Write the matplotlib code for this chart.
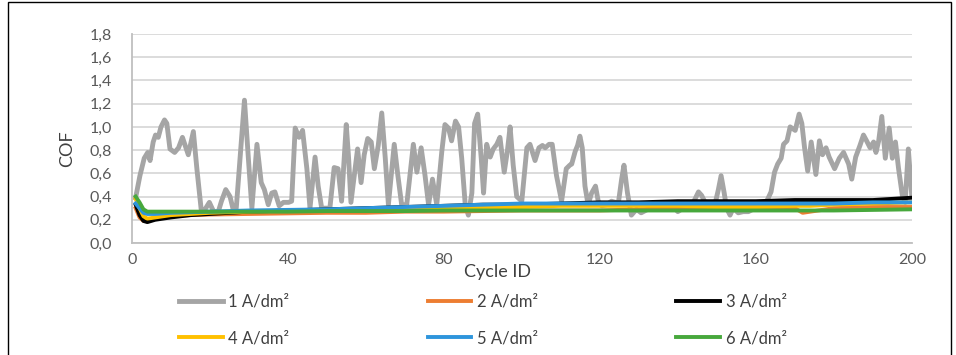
import matplotlib.pyplot as plt
from matplotlib.patches import Rectangle

plt.rcParams['font.family'] = ['Lato', 'DejaVu Sans']

# 1 A/dm2 - noisy series (cycle, COF)
gray_x = [1, 2.1, 3.2, 4.1, 4.7, 5.5, 6.1, 6.8, 7.5, 8.4, 9.0, 9.8, 11, 12, 13, 13.7, 14.5, 15.8,
          16.7, 17.8, 18.8, 19.9, 21, 22.2, 23, 24.1, 25.2, 26, 26.8, 28.9, 29.9, 30.8, 32.1, 33.2,
          34.0, 35.0, 35.9, 36.7, 37.8, 38.9, 40.2, 41, 41.9, 42.9, 43.8, 44.9, 45.7, 47, 47.8, 48.7,
          50.8, 51.9, 52.9, 53.8, 55, 55.6, 56.2, 57.9, 58.8, 59.6, 60.5, 61.4, 62.2, 63.2, 64.1, 65,
          65.8, 67.3, 68.2, 69.2, 70.5, 72.2, 73.1, 74.2, 75.2, 76.1, 77.1, 78.2, 79.5, 80.3, 81.2,
          82, 83.0, 83.8, 84.6, 85.5, 86.3, 87.2, 87.9, 88.7, 89.6, 90.2, 91, 91.9, 92.7, 93.6, 94.4,
          95.5, 96.3, 97, 97.8, 98.7, 100, 101.3, 102.1, 103.4, 104.4, 105.3, 106, 107, 107.8, 108.9,
          110.2, 111.4, 112.3, 112.8, 113.7, 114.3, 114.9, 115.5, 116.2, 117, 117.9, 118.9, 119.6,
          120.5, 121.7, 123, 124, 124.7, 125.6, 126.2, 127.1, 128.1, 129.4, 130.6, 132.3, 134, 135.8,
          137.5, 139.2, 140, 142.7, 144, 145.3, 146.1, 147, 148.3, 149.5, 150.4, 151.1, 151.9, 152.5,
          153.4, 154.2, 155.5, 156.8, 158.1, 159.8, 161.5, 162.8, 163.9, 164.8, 165.6, 166.5, 167.1,
          168, 168.8, 170.1, 171.1, 171.8, 172.5, 173.3, 174.2, 174.8, 175.4, 176.3, 177.1, 178,
          178.8, 180.2, 181.4, 182.5, 183.8, 184.6, 185.6, 186.7, 187.6, 188.4, 189.3, 190.2, 190.8,
          191.5, 192.3, 193.2, 194.2, 195, 195.8, 196.6, 197.6, 198.3, 199.1, 200]
gray_y = [0.39, 0.58, 0.73, 0.78, 0.71, 0.87, 0.93, 0.91, 1.00, 1.06, 1.03, 0.81, 0.78, 0.82, 0.91, 0.84, 0.76, 0.96,
          0.64, 0.29, 0.29, 0.35, 0.27, 0.27, 0.36, 0.46, 0.40, 0.29, 0.30, 1.23, 0.73, 0.30, 0.85, 0.52,
          0.46, 0.33, 0.43, 0.44, 0.32, 0.35, 0.35, 0.36, 0.99, 0.91, 0.97, 0.64, 0.30, 0.74, 0.49, 0.30,
          0.30, 0.65, 0.64, 0.36, 1.02, 0.73, 0.35, 0.81, 0.52, 0.76, 0.90, 0.87, 0.64, 0.84, 1.12, 0.73,
          0.33, 0.85, 0.59, 0.33, 0.33, 0.85, 0.61, 0.82, 0.58, 0.33, 0.55, 0.33, 0.79, 1.02, 0.99,
          0.88, 1.05, 1.00, 0.73, 0.33, 0.24, 0.43, 1.03, 1.11, 0.73, 0.43, 0.85, 0.74, 0.81, 0.85, 0.91,
          0.61, 0.79, 1.00, 0.67, 0.40, 0.36, 0.82, 0.85, 0.71, 0.82, 0.84, 0.82, 0.85, 0.85, 0.58,
          0.36, 0.64, 0.67, 0.68, 0.79, 0.84, 0.92, 0.82, 0.49, 0.33, 0.43, 0.49, 0.36,
          0.32, 0.33, 0.36, 0.35, 0.33, 0.55, 0.67, 0.43, 0.24, 0.29, 0.26, 0.29, 0.29, 0.29,
          0.30, 0.30, 0.27, 0.33, 0.35, 0.44, 0.41, 0.35, 0.32, 0.33, 0.46, 0.58, 0.43, 0.30,
          0.24, 0.30, 0.26, 0.27, 0.27, 0.30, 0.33, 0.36, 0.44, 0.61, 0.68, 0.73, 0.85,
          0.88, 1.00, 0.97, 1.11, 1.03, 0.82, 0.62, 0.87, 0.73, 0.59, 0.88, 0.76, 0.82,
          0.74, 0.64, 0.73, 0.78, 0.68, 0.55, 0.74, 0.84, 0.93, 0.88, 0.82, 0.87, 0.78,
          0.88, 1.09, 0.73, 0.99, 0.73, 0.87, 0.64, 0.40, 0.35, 0.81, 0.40]

# the flatter series share these cycles
cycles = [1, 2, 3, 4, 6, 10, 15, 20, 30, 40, 50, 60, 70, 80, 90, 100, 110, 120, 130, 140,
          150, 160, 170, 172, 174, 180, 190, 200]
orange_y = [0.30, 0.22, 0.19, 0.19, 0.21, 0.23, 0.24, 0.245, 0.25, 0.255, 0.26, 0.26, 0.27, 0.27,
            0.275, 0.28, 0.28, 0.28, 0.29, 0.30, 0.31, 0.31, 0.30, 0.26, 0.27, 0.30, 0.31, 0.31]
black_y = [0.33, 0.24, 0.19, 0.18, 0.20, 0.22, 0.24, 0.25, 0.27, 0.28, 0.29, 0.30, 0.31, 0.32,
           0.33, 0.33, 0.34, 0.35, 0.35, 0.36, 0.36, 0.36, 0.37, 0.37, 0.37, 0.37, 0.37, 0.39]
yellow_y = [0.38, 0.30, 0.23, 0.21, 0.22, 0.24, 0.25, 0.26, 0.27, 0.28, 0.28, 0.29, 0.30, 0.30,
            0.31, 0.31, 0.32, 0.32, 0.32, 0.32, 0.31, 0.31, 0.32, 0.32, 0.32, 0.33, 0.34, 0.35]
blue_y = [0.34, 0.30, 0.26, 0.25, 0.25, 0.26, 0.265, 0.27, 0.28, 0.285, 0.29, 0.30, 0.31, 0.32,
          0.33, 0.34, 0.34, 0.34, 0.34, 0.34, 0.34, 0.34, 0.34, 0.34, 0.34, 0.34, 0.35, 0.35]
green_y = [0.40, 0.35, 0.29, 0.27, 0.27, 0.27, 0.27, 0.27, 0.27, 0.27, 0.275, 0.275, 0.275, 0.28,
           0.28, 0.28, 0.28, 0.28, 0.28, 0.28, 0.28, 0.28, 0.28, 0.28, 0.28, 0.28, 0.285, 0.29]

labels = ['1 A/dm²', '2 A/dm²', '3 A/dm²', '4 A/dm²', '5 A/dm²', '6 A/dm²']
colors = ['#A5A5A5', '#ED7D31', '#000000', '#FFC000', '#2E95DC', '#47A83C']

fig = plt.figure(figsize=(9.56, 3.55), dpi=100)
ax = fig.add_axes([0.1378, 0.3155, 0.816, 0.5887])

lines = []
lines += ax.plot(gray_x, gray_y, color=colors[0], lw=3.5, solid_joinstyle='round', label=labels[0])
for ys, c, lab in zip([orange_y, black_y, yellow_y, blue_y, green_y], colors[1:], labels[1:]):
    lines += ax.plot(cycles, ys, color=c, lw=2.8, solid_joinstyle='round', label=lab)

ax.set_xlim(0, 200)
ax.set_ylim(0, 1.8)
ax.set_xticks(range(0, 201, 40))
ax.set_yticks([i * 0.2 for i in range(10)])
ax.set_yticklabels([f'{i * 0.2:.1f}'.replace('.', ',') for i in range(10)])
ax.tick_params(length=0, labelsize=11.5, colors='#595959')
ax.tick_params(axis='y', pad=14)
ax.tick_params(axis='x', pad=7)
ax.grid(axis='y', color='#D9D9D9', lw=1.3)
ax.set_axisbelow(True)
for s in ['top', 'right']:
    ax.spines[s].set_visible(False)
for s in ['left', 'bottom']:
    ax.spines[s].set_color('#BFBFBF')
    ax.spines[s].set_linewidth(1.3)
ax.set_xlabel('Cycle ID', fontsize=13, color='#404040')
ax.xaxis.set_label_coords((497 - 131.7) / 780, -0.10)
ax.set_ylabel('COF', fontsize=13, color='#404040')
ax.yaxis.set_label_coords(-0.072, 0.45)

# legend: 3 columns, rows 1-2-3 / 4-5-6
order = [0, 3, 1, 4, 2, 5]
fig.legend([lines[i] for i in order], [labels[i] for i in order], ncol=3,
           loc='upper left', bbox_to_anchor=(171 / 956, 1 - 285 / 355), frameon=False,
           fontsize=12, handlelength=2.6, handletextpad=0.35, columnspacing=8.3,
           labelspacing=1.25, borderpad=0, labelcolor='#404040')

# outer frame
fig.patches.append(Rectangle((8 / 956, -0.05), 943 / 956, 1.045, transform=fig.transFigure,
                             fill=False, edgecolor='black', lw=1))

fig.savefig('out.png', dpi=100)
